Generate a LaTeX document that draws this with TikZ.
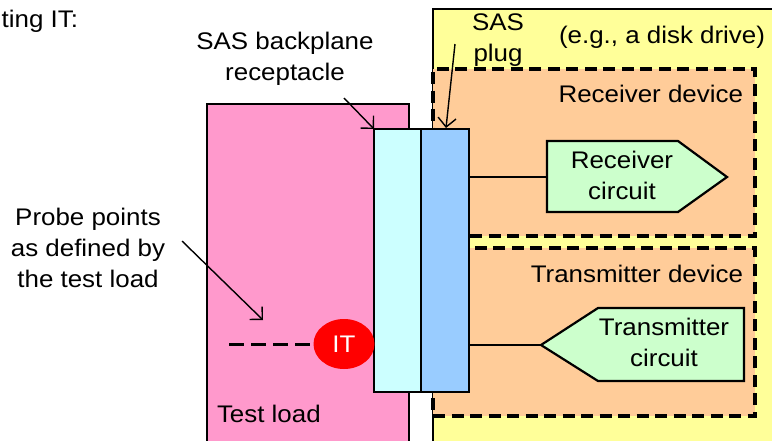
\documentclass[tikz,border=0pt]{standalone}
\usepackage{fontspec}
\setmainfont[FakeStretch=1.08]{Liberation Sans}
\usetikzlibrary{arrows.meta,shapes.geometric}

\definecolor{yellowbg}{HTML}{FFFF99}
\definecolor{peach}{HTML}{FFCC99}
\definecolor{pinkbg}{HTML}{FF99CC}
\definecolor{cyanbg}{HTML}{CCFFFF}
\definecolor{bluebg}{HTML}{99CCFF}
\definecolor{greenbg}{HTML}{CCFFCC}
\definecolor{itred}{HTML}{FF0000}

% centred multi-line label whose baseline is that of the first line
\newcommand{\linesc}[1]{\begin{tabular}[t]{@{}c@{}}#1\end{tabular}}

\begin{document}
\begin{tikzpicture}[x=1pt,y=-1pt,
  every node/.style={font=\fontsize{24}{31}\selectfont, inner sep=0pt, outer sep=0pt},
  panel/.style={draw=black, line width=2.2pt, anchor=north west},
  devbox/.style={draw=black, line width=3.2pt, dash pattern=on 12pt off 6.5pt,
                 fill=peach, anchor=north west},
  circ/.style={draw=black, line width=2.2pt, fill=greenbg, line join=miter},
  wire/.style={draw=black, line width=1.6pt},
  probeline/.style={draw=black, line width=3pt, dash pattern=on 15pt off 7pt},
  callout/.style={draw=black, line width=1.4pt,
                  -{Straight Barb[length=9pt,width=18pt,line width=1.4pt]}},
  lbl/.style={anchor=base},
]
\useasboundingbox (0,0) rectangle (772,440);
\clip (0,0) rectangle (772,440);
\fill[white] (0,0) rectangle (772,440);

% the drive and its two devices
\node[panel, line width=1.6pt, fill=yellowbg, minimum width=360pt, minimum height=450pt]
  (drive) at (433,9) {};
\node[devbox, minimum width=322pt, minimum height=167pt] (rxdev) at (433,69) {};
\node[devbox, minimum width=322pt, minimum height=168pt] (txdev) at (433,248) {};

% test load with the receptacle and the plug
\node[panel, fill=pinkbg, minimum width=202pt, minimum height=360pt] (load) at (207,104) {};
\node[panel, fill=cyanbg, minimum width=47pt, minimum height=263pt] (recep) at (374,129) {};
\node[panel, fill=bluebg, minimum width=48pt, minimum height=263pt] (plug) at (421,129) {};

% interoperability point and probe line
\node[ellipse, fill=itred, minimum width=61pt, minimum height=50pt, text=white]
  (it) at (344,344) {IT};
\coordinate (probe) at (229,344);
\draw[probeline] (probe) -- (it.west);

% receiver circuit
\coordinate (rxin) at (547,177);
\draw[circ] (547,141) -- (678,141) -- (727,177) -- (678,212) -- (547,212) -- cycle;
\draw[wire] (plug.east |- rxin) -- (rxin);
\node[lbl] (rxtext) at (622,168) {\linesc{Receiver\\circuit}};

% transmitter circuit
\coordinate (txin) at (541,345);
\draw[circ] (541,345) -- (598,308) -- (744,308) -- (744,381) -- (598,381) -- cycle;
\draw[wire] (plug.east |- txin) -- (txin);
\node[lbl] (txtext) at (664,335) {\linesc{Transmitter\\circuit}};

% labels
\node[anchor=base east] (intro) at (78,27) {ting IT:};
\node[lbl] (bplabel) at (285,49) {\linesc{SAS backplane\\receptacle}};
\node[lbl] (pluglabel) at (498,30) {\linesc{SAS\\plug}};
\node[anchor=base east] (eg) at (765,43) {(e.g., a disk drive)};
\node[anchor=base east] (rxlabel) at (743,102) {Receiver device};
\node[anchor=base east] (txlabel) at (743,282) {Transmitter device};
\node[lbl] (probelabel) at (88,225) {\linesc{Probe points\\as defined by\\the test load}};
\node[anchor=base west] (loadlabel) at (217,422) {Test load};

% call-out arrows
\coordinate (bptail) at (344,98);
\draw[callout] (bptail) -- (recep.north west);
\coordinate (plugtail) at (455,44);
\coordinate (plugtip) at (446,128);
\draw[callout] (plugtail) -- (plugtip);
\coordinate (probetail) at (182,241);
\coordinate (probetip) at (263,320);
\draw[callout] (probetail) -- (probetip);
\end{tikzpicture}
\end{document}
